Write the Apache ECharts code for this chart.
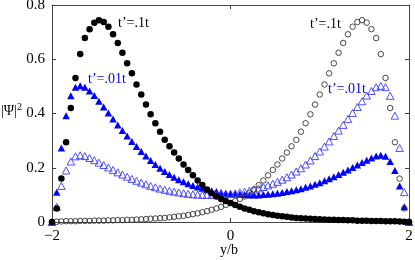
<!DOCTYPE html>
<html>
<head>
<meta charset="utf-8">
<script src="https://cdn.jsdelivr.net/npm/echarts@6/dist/echarts.min.js"></script>
<style>
html,body{margin:0;padding:0;background:#fff;}
#c{width:415px;height:260px;}
</style>
</head>
<body>
<div id="c"></div>
<script>
// y/b grid positions
var yb = [-2, -1.947, -1.895, -1.842, -1.789, -1.737, -1.684, -1.632, -1.579, -1.526,
  -1.474, -1.421, -1.368, -1.316, -1.263, -1.211, -1.158, -1.105, -1.053, -1,
  -0.947, -0.895, -0.842, -0.789, -0.737, -0.684, -0.632, -0.579, -0.526, -0.474,
  -0.421, -0.368, -0.316, -0.263, -0.211, -0.158, -0.105, -0.053, 0,
  0.053, 0.105, 0.158, 0.211, 0.263, 0.316, 0.368, 0.421, 0.474, 0.526,
  0.579, 0.632, 0.684, 0.737, 0.789, 0.842, 0.895, 0.947, 1, 1.053,
  1.105, 1.158, 1.211, 1.263, 1.316, 1.368, 1.421, 1.474, 1.526, 1.579,
  1.632, 1.684, 1.737, 1.789, 1.842, 1.895, 1.947, 2];

// t'=.1t, filled circles (left peaked)
var psiFilledCircle = [0, 0.05, 0.16, 0.294, 0.42, 0.531, 0.619, 0.678, 0.711, 0.735,
  0.744, 0.737, 0.72, 0.692, 0.66, 0.624, 0.585, 0.548, 0.507, 0.47,
  0.433, 0.397, 0.364, 0.333, 0.303, 0.279, 0.256, 0.234, 0.212, 0.192,
  0.172, 0.153, 0.136, 0.12, 0.106, 0.094, 0.085, 0.077, 0.07,
  0.063, 0.056, 0.05, 0.045, 0.04, 0.036, 0.032, 0.029, 0.026, 0.023,
  0.021, 0.019, 0.017, 0.015, 0.014, 0.013, 0.012, 0.011, 0.01, 0.009,
  0.008, 0.008, 0.007, 0.007, 0.006, 0.006, 0.005, 0.005, 0.005, 0.004,
  0.004, 0.004, 0.003, 0.003, 0.003, 0.002, 0.001, 0];

// t'=.1t, open circles (right peaked)
var psiOpenCircle = [0, 0.001, 0.002, 0.003, 0.003, 0.003, 0.004, 0.004, 0.004, 0.005,
  0.005, 0.005, 0.006, 0.006, 0.007, 0.007, 0.008, 0.008, 0.009, 0.01,
  0.011, 0.012, 0.013, 0.014, 0.015, 0.017, 0.019, 0.021, 0.023, 0.026,
  0.029, 0.032, 0.036, 0.04, 0.045, 0.05, 0.056, 0.063, 0.07,
  0.077, 0.085, 0.094, 0.106, 0.12, 0.136, 0.153, 0.172, 0.192, 0.212,
  0.234, 0.256, 0.279, 0.303, 0.333, 0.364, 0.397, 0.433, 0.47, 0.507,
  0.548, 0.585, 0.624, 0.66, 0.692, 0.72, 0.737, 0.744, 0.735, 0.711,
  0.678, 0.619, 0.531, 0.42, 0.294, 0.16, 0.05, 0];

// t'=.01t, filled triangles (left peaked)
var psiFilledTri = [0, 0.11, 0.273, 0.392, 0.465, 0.497, 0.502, 0.497, 0.483, 0.466,
  0.445, 0.424, 0.402, 0.38, 0.358, 0.337, 0.317, 0.297, 0.278, 0.26,
  0.243, 0.227, 0.212, 0.198, 0.186, 0.175, 0.165, 0.156, 0.148, 0.141,
  0.135, 0.129, 0.124, 0.119, 0.115, 0.112, 0.109, 0.106, 0.104,
  0.103, 0.102, 0.101, 0.1, 0.1, 0.1, 0.101, 0.102, 0.104, 0.106,
  0.109, 0.112, 0.115, 0.119, 0.123, 0.128, 0.133, 0.139, 0.145, 0.152,
  0.159, 0.167, 0.175, 0.183, 0.192, 0.201, 0.21, 0.219, 0.228, 0.236,
  0.243, 0.246, 0.242, 0.223, 0.19, 0.133, 0.056, 0];

// t'=.01t, open triangles (right peaked)
var psiOpenTri = [0, 0.056, 0.133, 0.19, 0.223, 0.242, 0.246, 0.243, 0.236, 0.228,
  0.219, 0.21, 0.201, 0.192, 0.183, 0.175, 0.167, 0.159, 0.152, 0.145,
  0.139, 0.133, 0.128, 0.123, 0.119, 0.115, 0.112, 0.109, 0.106, 0.104,
  0.102, 0.101, 0.1, 0.1, 0.1, 0.101, 0.102, 0.103, 0.104,
  0.106, 0.109, 0.112, 0.115, 0.119, 0.124, 0.129, 0.135, 0.141, 0.148,
  0.156, 0.165, 0.175, 0.186, 0.198, 0.212, 0.227, 0.243, 0.26, 0.278,
  0.297, 0.317, 0.337, 0.358, 0.38, 0.402, 0.424, 0.445, 0.466, 0.483,
  0.497, 0.502, 0.497, 0.465, 0.392, 0.273, 0.11, 0];

var xTicks = [-2, 0, 2];
var yTicks = [0, 0.2, 0.4, 0.6, 0.8];
var labelBlack = "t\u2019=.1t";
var labelBlue = "t\u2019=.01t";
var xTitle = "y/b";

function pairs(ys) {
  return yb.map(function (x, i) { return [x, ys[i]]; });
}

var FONT = 'Liberation Serif';
var chart = echarts.init(document.getElementById('c'), null, {renderer: 'canvas'});

var axisLineStyle = {color: '#444', width: 1};
function txt(text, left, top, color, size) {
  return {type: 'text', left: left, top: top, style: {
    text: text, fill: color, fontFamily: FONT, fontSize: size
  }};
}
chart.setOption({
  animation: false,
  backgroundColor: '#fff',
  textStyle: {fontFamily: FONT},
  grid: {left: 52, right: 6, top: 5, bottom: 38, show: false,
    containLabel: false, outerBoundsMode: 'none'},
  xAxis: [{
    type: 'value', min: xTicks[0], max: xTicks[xTicks.length - 1], interval: 2,
    position: 'bottom',
    axisLine: {show: true, onZero: false, lineStyle: axisLineStyle},
    axisTick: {show: true, inside: true, length: 4, lineStyle: axisLineStyle},
    splitLine: {show: false},
    axisLabel: {
      color: '#000', fontFamily: FONT, fontSize: 15, margin: 7,
      formatter: function (v) { return v < 0 ? '\u2212' + Math.abs(v) : String(v); }
    }
  }, {
    type: 'value', min: xTicks[0], max: xTicks[xTicks.length - 1], interval: 2,
    position: 'top',
    axisLine: {show: true, onZero: false, lineStyle: axisLineStyle},
    axisTick: {show: true, inside: true, length: 4, lineStyle: axisLineStyle},
    splitLine: {show: false},
    axisLabel: {show: false}
  }],
  yAxis: [{
    type: 'value', min: yTicks[0], max: yTicks[yTicks.length - 1], interval: 0.2,
    position: 'left',
    axisLine: {show: true, onZero: false, lineStyle: axisLineStyle},
    axisTick: {show: true, inside: true, length: 4, lineStyle: axisLineStyle},
    splitLine: {show: false},
    axisLabel: {color: '#000', fontFamily: FONT, fontSize: 15, margin: 7,
      formatter: function (v) { return String(Math.round(v * 10) / 10); }}
  }, {
    type: 'value', min: yTicks[0], max: yTicks[yTicks.length - 1], interval: 0.2,
    position: 'right',
    axisLine: {show: true, onZero: false, lineStyle: axisLineStyle},
    axisTick: {show: true, inside: true, length: 4, lineStyle: axisLineStyle},
    splitLine: {show: false},
    axisLabel: {show: false}
  }],
  graphic: [
    {type: 'text', left: 1, top: 102, style: {
      text: '|\u03A8|{s|2}', fill: '#000', fontFamily: FONT, fontSize: 14,
      rich: {s: {fontSize: 10, fontFamily: FONT, verticalAlign: 'top', padding: [0, 0, 8, 0]}}
    }},
    {type: 'text', left: 220, top: 243, style: {
      text: xTitle, fill: '#000', fontFamily: FONT, fontSize: 14
    }},
    txt(labelBlack, 118, 16, '#000', 14),
    txt(labelBlack, 310, 17, '#000', 14),
    txt(labelBlue, 88, 72, '#0000ff', 14),
    txt(labelBlue, 328, 82, '#0000ff', 14)
  ],
  series: [
    {type: 'scatter', name: 'filledTri', data: pairs(psiFilledTri), clip: false,
      symbol: 'triangle', symbolSize: [7.5, 7], itemStyle: {color: '#0000ff', opacity: 1}, z: 2},
    {type: 'scatter', name: 'openTri', data: pairs(psiOpenTri), clip: false,
      symbol: 'triangle', symbolSize: [7.5, 7],
      itemStyle: {color: 'rgba(255,255,255,0)', borderColor: '#3b3bff', borderWidth: 0.9, opacity: 1}, z: 3},
    {type: 'scatter', name: 'openCircle', data: pairs(psiOpenCircle), clip: false,
      symbol: 'circle', symbolSize: 5.5,
      itemStyle: {color: 'rgba(255,255,255,0)', borderColor: '#333', borderWidth: 0.9, opacity: 1}, z: 4},
    {type: 'scatter', name: 'filledCircle', data: pairs(psiFilledCircle), clip: false,
      symbol: 'circle', symbolSize: 6.5, itemStyle: {color: '#000', opacity: 1}, z: 5}
  ]
});
</script>
</body>
</html>
